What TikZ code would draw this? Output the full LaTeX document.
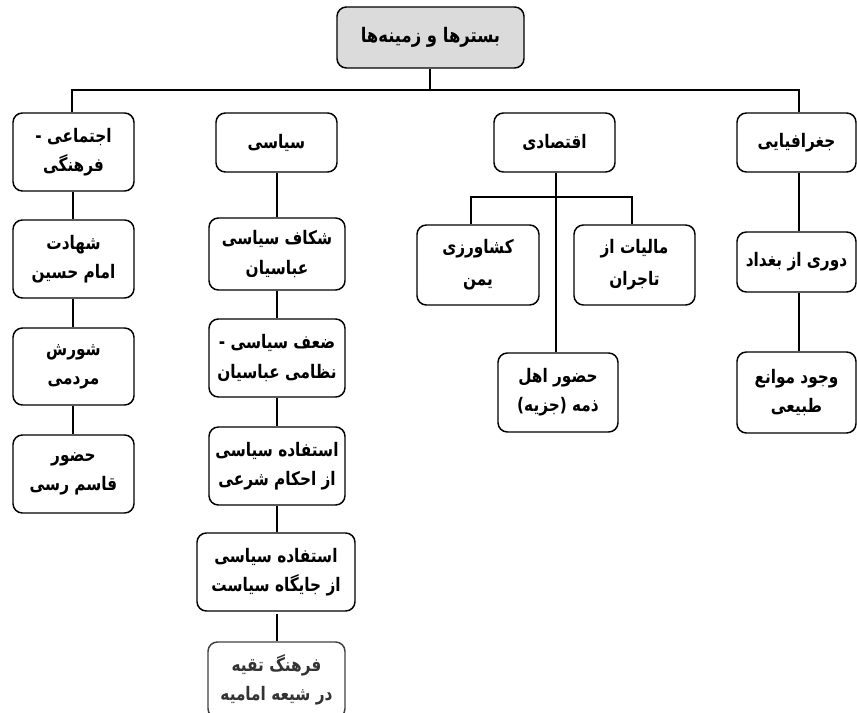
\documentclass[tikz,border=0pt]{standalone}
\usepackage{fontspec}
\TeXXeTstate=1
\newfontfamily\arabicfont[Script=Arabic,FakeStretch=0.82]{DejaVu Sans Bold}
\newcommand{\fa}[1]{\beginR #1\endR}
\begin{document}
\begin{tikzpicture}[x=0.75pt,y=-0.75pt,
  box/.style={draw=black, line width=1.1pt, rounded corners=7pt, align=center,
    font=\arabicfont\fontsize{14}{22}\selectfont, inner sep=0pt},
  wide/.style={font=\arabicfont\fontsize{14}{24}\selectfont},
  conn/.style={draw=black, line width=1.1pt}]
\useasboundingbox (0,0) rectangle (857,713);
\begin{scope}
\clip (0,0) rectangle (857,713);
% top
\node[box, fill=gray!28, font=\arabicfont\fontsize{15}{20}\selectfont, minimum width=187*0.75pt, minimum height=61*0.75pt] (top) at (430.5,37.5) {\fa{بسترها و زمینه‌ها}};
% column 1
\node[box, minimum width=121*0.75pt, minimum height=78*0.75pt] (c1a) at (73.5,152) {\fa{اجتماعی -}\\\fa{فرهنگی}};
\node[box, minimum width=121*0.75pt, minimum height=78*0.75pt] (c1b) at (73.5,259) {\fa{شهادت}\\\fa{امام حسین}};
\node[box, minimum width=121*0.75pt, minimum height=77*0.75pt] (c1c) at (73.5,366.5) {\fa{شورش}\\\fa{مردمی}};
\node[box, minimum width=121*0.75pt, minimum height=78*0.75pt] (c1d) at (73.5,474) {\fa{حضور}\\\fa{قاسم رسی}};
% column 2
\node[box, minimum width=121*0.75pt, minimum height=59*0.75pt] (c2a) at (276.5,142.5) {\fa{سیاسی}};
\node[box, minimum width=136*0.75pt, minimum height=72*0.75pt] (c2b) at (277,254) {\fa{شکاف سیاسی}\\\fa{عباسیان}};
\node[box, minimum width=136*0.75pt, minimum height=78*0.75pt] (c2c) at (277,358) {\fa{ضعف سیاسی -}\\\fa{نظامی عباسیان}};
\node[box, minimum width=136*0.75pt, minimum height=78*0.75pt] (c2d) at (277,466) {\fa{استفاده سیاسی}\\\fa{از احکام شرعی}};
\node[box, minimum width=158*0.75pt, minimum height=78*0.75pt] (c2e) at (276,572) {\fa{استفاده سیاسی}\\\fa{از جایگاه سیاست}};
\node[box, draw=black!75, text=black!80, minimum width=137*0.75pt, minimum height=76*0.75pt] (c2f) at (276.5,680) {\fa{فرهنگ تقیه}\\\fa{در شیعه امامیه}};
% column 3
\node[box, minimum width=121*0.75pt, minimum height=59*0.75pt] (c3a) at (554.5,142.5) {\fa{اقتصادی}};
\node[box, wide, minimum width=122*0.75pt, minimum height=80*0.75pt] (c3b) at (478,265) {\fa{کشاورزی}\\\fa{یمن}};
\node[box, wide, minimum width=121*0.75pt, minimum height=80*0.75pt] (c3c) at (634.5,265) {\fa{مالیات از}\\\fa{تاجران}};
\node[box, minimum width=120*0.75pt, minimum height=79*0.75pt] (c3d) at (558,392.5) {\fa{حضور اهل}\\\fa{ذمه (جزیه)}};
% column 4
\node[box, minimum width=119*0.75pt, minimum height=59*0.75pt] (c4a) at (796.5,142.5) {\fa{جغرافیایی}};
\node[box, minimum width=119*0.75pt, minimum height=60*0.75pt] (c4b) at (796.5,262) {\fa{دوری از بغداد}};
\node[box, minimum width=119*0.75pt, minimum height=81*0.75pt] (c4c) at (796.5,392.5) {\fa{وجود موانع}\\\fa{طبیعی}};
% connectors
\coordinate (bus) at (430,90);
\coordinate (bus3) at (556,197);
\draw[conn] (top.south -| 430,0) -- (bus);
\draw[conn] (c1a.north -| 72,0) |- (bus) -| (c4a.north -| 799,0);
\draw[conn] (c1a.south -| 73,0) -- (c1b.north -| 73,0);
\draw[conn] (c1b.south -| 73,0) -- (c1c.north -| 73,0);
\draw[conn] (c1c.south -| 73,0) -- (c1d.north -| 73,0);
\draw[conn] (c2a.south -| 277,0) -- (c2b.north -| 277,0);
\draw[conn] (c2b.south -| 277,0) -- (c2c.north -| 277,0);
\draw[conn] (c2c.south -| 277,0) -- (c2d.north -| 277,0);
\draw[conn] (c2d.south -| 277,0) -- (c2e.north -| 277,0);
\draw[conn] (c2e.south -| 277,0) ++(0,2) -- (c2f.north -| 277,0);
\draw[conn] (c3a.south -| 556,0) -- (c3d.north -| 556,0);
\draw[conn] (c3b.north -| 471,0) |- (bus3) -| (c3c.north -| 632,0);
\draw[conn] (c4a.south -| 799,0) -- (c4b.north -| 799,0);
\draw[conn] (c4b.south -| 799,0) -- (c4c.north -| 799,0);
\end{scope}
\end{tikzpicture}
\end{document}
